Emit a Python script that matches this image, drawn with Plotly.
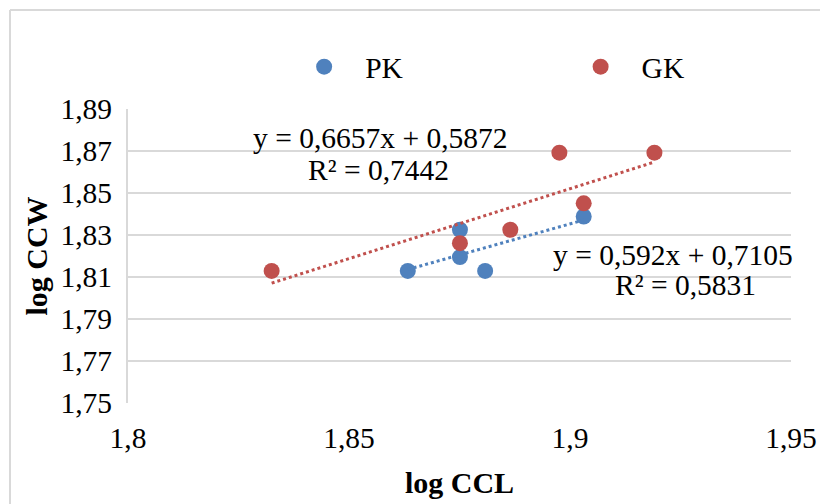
import numpy as np
import plotly.graph_objects as go

# Data (log10 values)
pk_ccl = [1.8633, 1.8751, 1.8751, 1.8808, 1.9031]
pk_ccw = [1.8129, 1.8195, 1.8325, 1.8129, 1.8388]
gk_ccl = [1.8325, 1.8751, 1.8865, 1.8976, 1.9031, 1.9191]
gk_ccw = [1.8129, 1.8261, 1.8325, 1.8692, 1.8451, 1.8692]

pk_fit = (0.592, 0.7105)
gk_fit = (0.6657, 0.5872)

x_ticks = [1.8, 1.85, 1.9, 1.95]
y_ticks = [1.75, 1.77, 1.79, 1.81, 1.83, 1.85, 1.87, 1.89]

BLUE = "#4F81BD"
RED = "#C0504D"
FONT = "Liberation Serif"
FS = 29.5

fig = go.Figure()

fig.add_trace(go.Scatter(x=pk_ccl, y=pk_ccw, mode="markers", name="PK", legend="legend",
                         marker=dict(color=BLUE, size=16)))
fig.add_trace(go.Scatter(x=gk_ccl, y=gk_ccw, mode="markers", name="GK", legend="legend2",
                         marker=dict(color=RED, size=16)))

def trend(xs, fit, color):
    xx = np.array([min(xs), max(xs)])
    yy = fit[0] * xx + fit[1]
    return go.Scatter(x=xx, y=yy, mode="lines", showlegend=False, hoverinfo="skip",
                      line=dict(color=color, width=3, dash="dot"))

fig.add_trace(trend(pk_ccl, pk_fit, BLUE))
fig.add_trace(trend(gk_ccl, gk_fit, RED))

ann_font = dict(family=FONT, size=FS, color="black")
annotations = [
    dict(x=1.8572, y=1.8762, text="y = 0,6657x + 0,5872"),
    dict(x=1.8566, y=1.8610, text="R² = 0,7442"),
    dict(x=1.9233, y=1.8205, text="y = 0,592x + 0,7105"),
    dict(x=1.9262, y=1.8062, text="R² = 0,5831"),
]
for a in annotations:
    fig.add_annotation(x=a["x"], y=a["y"], text=a["text"], showarrow=False,
                       font=ann_font, xanchor="center", yanchor="middle")

# outer chart border (top and left visible)
fig.add_shape(type="line", xref="paper", yref="paper", x0=-0.178, x1=1.2, y0=1.337, y1=1.337,
              line=dict(color="#d9d9d9", width=2))
fig.add_shape(type="line", xref="paper", yref="paper", x0=-0.178, x1=-0.178, y0=-0.5, y1=1.337,
              line=dict(color="#d9d9d9", width=2))

leg_common = dict(orientation="h", yanchor="middle", xanchor="left",
                  font=dict(family=FONT, size=FS), bgcolor="rgba(0,0,0,0)", itemwidth=72)

fig.update_layout(
    width=828, height=504,
    margin=dict(l=120, r=45, t=101, b=109, autoexpand=False),
    paper_bgcolor="white", plot_bgcolor="white",
    separators=", ",
    font=dict(family=FONT, size=FS, color="black"),
    legend=dict(x=0.234, y=1.143, **leg_common),
    legend2=dict(x=0.651, y=1.143, **leg_common),
    xaxis=dict(range=[1.8, 1.95], tickvals=x_ticks, showgrid=False, zeroline=False,
               showline=False, ticks="", tickfont=dict(size=FS, family=FONT),
               ticklabelstandoff=14,
               title=dict(text="<b>log CCL</b>", font=dict(size=30, family=FONT), standoff=19)),
    yaxis=dict(range=[1.75, 1.89], tickvals=y_ticks, tickformat=".2f", showgrid=True,
               gridcolor="#d9d9d9", gridwidth=2, zeroline=False, showline=True,
               linecolor="#d9d9d9", linewidth=2, ticks="", tickfont=dict(size=FS, family=FONT),
               ticklabelstandoff=8,
               title=dict(text="<b>log CCW</b>", font=dict(size=30, family=FONT), standoff=4)),
)

fig.write_html("out.html")
